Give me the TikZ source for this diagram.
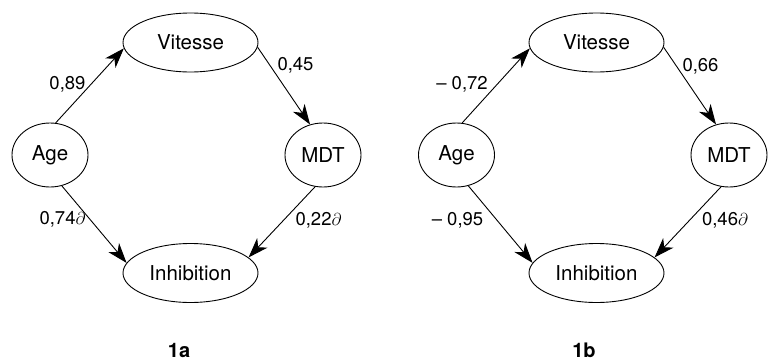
\documentclass[tikz,border=0pt]{standalone}
\usepackage{fontspec}
\setmainfont{TeX Gyre Heros}
\usetikzlibrary{shapes.geometric,arrows.meta}
\tikzset{
  var/.style={draw, ellipse, line width=0.9pt, inner sep=0pt, font=\fontsize{20.5}{22}\selectfont},
  wide/.style={var, minimum width=135pt, minimum height=59pt},
  small/.style={var, minimum width=76pt, minimum height=64pt},
  arrowpath/.style={line width=0.9pt, -{Stealth[length=20pt,width=14pt,inset=6pt]}},
  coef/.style={font=\fontsize{18.5}{20}\selectfont, inner sep=0pt},
  figlabel/.style={font=\fontsize{20}{22}\selectfont\bfseries, inner sep=0pt}
}
\begin{document}
\begin{tikzpicture}[x=1pt,y=-1pt]
\useasboundingbox (0,0) rectangle (769,362);
% panel 1a
\node[wide]  (v1) at (190.5,42.5) {Vitesse};
\node[small] (a1) at (50,155) {Age};
\node[small] (m1) at (323,155) {MDT};
\node[wide]  (i1) at (190.5,273) {Inhibition};
\draw[arrowpath] (a1.80) -- (v1.185);
\draw[arrowpath] (v1.356) -- (m1.113);
\draw[arrowpath] (a1.291) -- (i1.171);
\draw[arrowpath] (m1.256) -- (i1.15);
\node[coef] (c1) at (67.5,84) {0,89};
\node[coef] (c2) at (295.5,65.5) {0,45};
\node[coef] (c3) at (62.5,219.5) {0,74$\partial$};
\node[coef] (c4) at (318.5,220) {0,22$\partial$};
\node[figlabel] (t1) at (179,350) {1a};
% panel 1b
\node[wide]  (v2) at (596.5,42.5) {Vitesse};
\node[small] (a2) at (456.5,155) {Age};
\node[small] (m2) at (729,155) {MDT};
\node[wide]  (i2) at (596.5,273) {Inhibition};
\draw[arrowpath] (a2.80) -- (v2.185);
\draw[arrowpath] (v2.356) -- (m2.113);
\draw[arrowpath] (a2.291) -- (i2.171);
\draw[arrowpath] (m2.256) -- (i2.15);
\node[coef] (d1) at (462,84.5) {\char"2013\ 0,72};
\node[coef] (d2) at (700.5,66) {0,66};
\node[coef] (d3) at (457.5,220) {\char"2013\ 0,95};
\node[coef] (d4) at (725,220) {0,46$\partial$};
\node[figlabel] (t2) at (584,350) {1b};
\end{tikzpicture}
\end{document}
